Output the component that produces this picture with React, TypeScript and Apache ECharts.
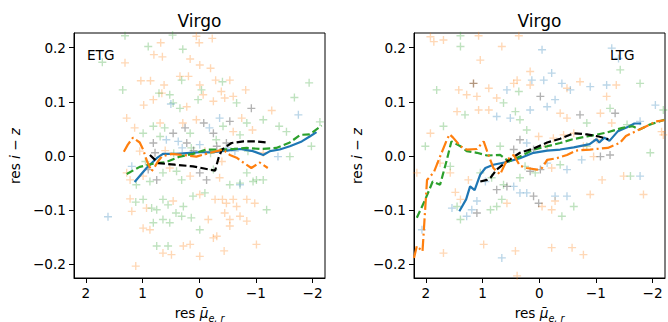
import React, { useEffect, useRef } from 'react';
import * as echarts from 'echarts';

// ---------- tick labels / texts ----------
const xTicks = [2, 1, 0, -1, -2];
const yTicks = [-0.2, -0.1, 0.0, 0.1, 0.2];
const panelTitles = ['Virgo', 'Virgo'];
const panelTags = ['ETG', 'LTG'];

// ---------- ETG panel (left) scatter ----------
const etgOrange = [
  [0.80,0.187],[0.68,0.209],[0.65,0.183],[0.05,0.221],[0.00,0.209],[-0.23,0.217],[0.16,0.179],[-0.01,0.168],
  [-0.20,0.162],[1.31,0.172],[1.03,0.139],[0.86,0.139],[0.66,0.116],[0.62,0.131],[0.98,0.094],[0.81,0.104],
  [0.34,0.147],[0.19,0.147],[-0.01,0.131],[-0.07,0.113],[-0.25,0.101],[-0.29,0.140],[-0.54,0.140],[-0.39,0.119],
  [-0.45,0.107],[-0.60,0.110],[-0.82,0.122],[0.22,0.091],[-1.28,0.084],[-0.75,0.070],[-0.94,0.048],[1.28,0.070],
  [1.14,0.052],[0.69,0.061],[0.29,0.061],[0.05,0.067],[-0.60,0.045],[-0.10,0.009],[-1.13,0.006],[1.05,0.009],
  [1.28,-0.031],[1.22,-0.044],[0.99,-0.037],[0.52,-0.022],[0.16,-0.037],[-0.36,-0.040],[1.22,-0.079],[1.19,-0.102],
  [0.93,-0.096],[0.46,-0.083],[-0.01,-0.071],[-0.28,-0.080],[-0.41,-0.080],[-0.48,-0.087],[-0.60,-0.080],[-0.66,-0.093],
  [-0.45,-0.105],[-0.54,-0.117],[-0.84,-0.080],[-0.98,-0.087],[0.99,-0.133],[0.87,-0.136],[-0.16,-0.117],[-0.31,-0.148],
  [-0.54,-0.129],[-0.72,-0.111],[-0.84,-0.120],[-1.01,-0.163],[0.64,-0.179],[0.49,-0.182],[0.28,-0.166],[0.16,-0.163],
  [-0.01,-0.185],[-0.25,-0.151],[-0.44,-0.175],[1.12,-0.203],[-0.40,-0.010],[0.60,0.010]
];
const etgGreen = [
  [1.31,0.222],[0.90,0.202],[0.47,0.223],[0.29,0.197],[1.71,0.173],[1.35,0.122],[0.71,0.116],[0.52,0.113],
  [0.31,0.140],[-0.04,0.122],[-0.41,0.137],[-0.66,0.098],[0.46,0.098],[0.34,0.088],[0.02,0.104],[-1.94,0.135],
  [-1.68,0.108],[-0.84,0.061],[-1.13,0.067],[-1.41,0.055],[-1.54,0.045],[-2.13,0.063],[-1.98,0.018],[0.99,0.042],
  [0.81,0.055],[0.61,0.052],[0.16,0.042],[-0.42,0.055],[-0.72,0.039],[0.69,0.036],[0.14,0.015],[-0.86,0.009],
  [-1.60,-0.001],[1.11,-0.053],[0.87,-0.047],[0.64,-0.031],[0.40,-0.028],[0.31,-0.044],[-0.25,-0.025],[-0.54,-0.053],
  [-0.72,-0.050],[-0.84,-0.031],[-0.95,-0.047],[-1.13,-0.044],[1.12,-0.085],[0.99,-0.080],[0.84,-0.096],[0.75,-0.099],
  [0.64,-0.080],[0.55,-0.090],[0.41,-0.105],[0.28,-0.093],[0.11,-0.074],[-0.10,-0.068],[-1.19,-0.099],[-1.01,-0.044],
  [0.81,-0.123],[0.64,-0.117],[0.52,-0.123],[0.31,-0.111],[0.14,-0.114],[-0.01,-0.136],[0.55,-0.166],[0.75,-0.166],
  [0.45,0.005],[-0.20,0.005],[0.95,-0.010],[-0.30,0.030]
];
const etgBlue = [
  [-1.75,0.076],[0.50,0.096],[-0.18,0.052],[-0.36,0.070],[0.58,0.030],[0.37,0.027],[-0.01,0.021],[-0.63,0.009],
  [-1.39,-0.001],[1.19,-0.019],[-0.72,-0.053],[1.61,-0.112],[0.30,0.015],[-0.50,0.015]
];
const etgGray = [
  [-0.92,0.088],[0.46,0.042],[0.25,0.052],[-0.08,0.061],[-0.25,0.042],[-0.54,0.064],[0.22,0.024],[-0.31,0.018],
  [-0.48,0.024],[0.81,0.024],[0.78,0.006],[0.75,-0.044],[-0.01,-0.031],[-0.13,-0.044],[0.10,0.010],[0.90,-0.025]
];

// ---------- ETG panel running curves ----------
const etgBlueLine = [
  [1.14,-0.048],[0.93,-0.022],[0.75,-0.004],[0.64,0.004],[0.40,0.004],[0.16,0.006],[-0.01,0.007],[-0.25,0.007],
  [-0.48,0.010],[-0.72,0.013],[-0.95,0.009],[-1.13,0.002],[-1.25,0.009],[-1.42,0.012],[-1.60,0.018],[-1.81,0.027],
  [-1.95,0.036],[-2.07,0.044]
];
const etgGreenLine = [
  [1.28,-0.033],[1.05,-0.020],[0.81,-0.014],[0.58,-0.011],[0.34,-0.001],[0.11,0.004],[-0.13,0.012],[-0.36,0.012],
  [-0.60,0.013],[-0.84,0.015],[-1.07,0.013],[-1.36,0.015],[-1.60,0.025],[-1.78,0.039],[-1.95,0.040],[-2.16,0.056]
];
const etgBlackLine = [
  [0.87,0.002],[0.72,-0.013],[0.43,-0.016],[0.11,-0.019],[-0.28,-0.027],[-0.34,-0.004],[-0.40,0.012],[-0.57,0.024],
  [-0.78,0.027],[-1.01,0.027],[-1.19,0.025]
];
const etgOrangeLine = [
  [1.33,0.008],[1.26,0.021],[1.17,0.034],[1.05,0.025],[0.99,0.012],[0.92,-0.010],[0.84,-0.028],[0.78,-0.019],
  [0.73,-0.010],[0.66,-0.001],[0.49,0.004],[0.31,0.002],[0.20,0.001],[0.05,-0.001],[-0.19,0.006],[-0.42,0.012],
  [-0.54,0.002],[-0.66,-0.003],[-0.75,-0.010],[-0.92,-0.022],[-1.07,-0.012],[-1.21,-0.022]
];

// ---------- LTG panel (right) scatter ----------
const ltgOrange = [
  [1.92,0.220],[1.86,0.211],[1.69,0.214],[1.07,0.222],[0.36,0.222],[0.66,0.202],[1.04,0.177],[0.16,0.156],
  [0.39,0.140],[1.42,0.122],[1.28,0.113],[1.10,0.110],[0.89,0.125],[0.75,0.107],[0.45,0.134],[0.16,0.131],
  [-0.49,0.125],[-0.72,0.137],[-1.19,0.110],[-1.36,0.131],[1.92,0.042],[1.45,0.082],[1.07,0.085],[0.89,0.085],
  [-0.37,0.079],[-0.49,0.070],[-1.08,0.079],[-1.28,0.061],[-2.16,0.045],[1.75,-0.013],[1.57,-0.031],[1.48,-0.067],
  [1.39,-0.080],[1.25,-0.044],[-0.22,-0.022],[-0.96,-0.001],[-1.49,-0.037],[-1.11,-0.044],[-0.90,-0.071],[-1.84,-0.071],
  [0.57,-0.087],[-0.05,-0.093],[-0.22,-0.099],[-0.28,-0.083],[1.69,-0.179],[0.98,-0.163],[0.42,-0.175],[-0.22,-0.169],
  [-0.58,-0.169],[-0.78,-0.182],[0.39,-0.221],[-0.14,0.018],[-0.25,0.033],[-0.43,0.039],[-0.61,0.042],[-1.02,0.030],
  [0.01,0.036],[-2.19,0.039],[-0.78,0.018],[2.16,-0.031],[1.16,0.134]
];
const ltgGreen = [
  [1.39,0.222],[1.39,0.202],[-1.43,0.159],[1.81,0.122],[0.36,0.119],[-1.78,0.134],[-2.19,0.085],[1.69,0.055],
  [1.31,0.076],[0.63,0.098],[0.42,0.082],[0.34,0.067],[-0.84,0.061],[-1.25,0.088],[-1.55,0.058],[-1.96,0.006],
  [1.57,-0.019],[1.04,-0.031],[0.84,-0.040],[0.63,-0.053],[0.34,-0.040],[0.25,-0.019],[0.07,-0.031],[-0.37,-0.016],
  [-1.61,-0.037],[1.45,-0.093],[1.39,-0.117],[0.86,-0.099],[0.75,-0.093],[0.66,-0.080],[-0.40,-0.111],[-0.61,-0.093],
  [2.01,0.018],[-0.84,0.018],[0.69,0.018],[0.22,0.048]
];
const ltgBlue = [
  [-0.05,0.196],[-0.22,0.153],[0.13,0.140],[-0.08,0.140],[-1.28,0.199],[-1.40,0.180],[0.57,0.122],[-0.40,0.134],
  [-0.55,0.122],[-0.90,0.128],[-1.19,0.131],[-2.05,0.094],[0.75,0.073],[0.51,0.070],[0.16,0.085],[-0.14,0.091],
  [-0.28,0.104],[0.95,-0.047],[0.45,-0.056],[-0.14,-0.013],[-0.49,-0.025],[-0.75,-0.007],[-1.78,-0.037],[1.54,-0.096],
  [1.28,-0.111],[1.19,-0.099],[1.10,-0.083],[0.34,-0.068],[0.22,-0.068],[-0.49,-0.074],[-0.28,-0.074],[2.07,-0.136],
  [0.66,-0.188],[0.22,0.024],[-1.78,0.064]
];
const ltgGray = [
  [1.16,0.134],[-0.02,0.110],[-0.72,0.076],[-1.34,0.079],[0.75,-0.062],[0.57,-0.056],[0.16,-0.028],[-0.02,-0.025],
  [-1.08,-0.001],[-1.25,0.002],[1.10,-0.105],[0.10,-0.074],[0.01,-0.087],[0.10,0.012],[0.34,0.030],[0.45,0.012]
];

// ---------- LTG panel running curves ----------
const ltgBlueLine = [
  [1.41,-0.102],[1.29,-0.080],[1.22,-0.056],[1.14,-0.063],[1.04,-0.034],[0.95,-0.022],[0.81,-0.016],[0.57,-0.011],
  [0.34,-0.004],[0.10,0.006],[-0.14,0.010],[-0.37,0.012],[-0.61,0.016],[-0.89,0.022],[-1.01,0.031],[-1.06,0.025],
  [-1.15,0.034],[-1.24,0.028],[-1.39,0.046],[-1.53,0.052],[-1.68,0.060],[-1.80,0.060]
];
const ltgGreenLine = [
  [2.16,-0.114],[2.01,-0.080],[1.88,-0.047],[1.75,-0.053],[1.63,-0.007],[1.55,0.027],[1.39,0.018],[1.28,0.009],
  [1.10,0.006],[0.92,0.001],[0.69,0.002],[0.54,-0.010],[0.34,-0.001],[0.10,0.012],[-0.14,0.018],[-0.37,0.024],
  [-0.59,0.031],[-0.84,0.036],[-1.18,0.043],[-1.47,0.052],[-1.65,0.055],[-1.77,0.049],[-1.95,0.058],[-2.21,0.067]
];
const ltgBlackLine = [
  [1.04,-0.047],[0.92,-0.044],[0.86,-0.040],[0.75,-0.025],[0.57,-0.010],[0.34,0.006],[0.10,0.014],[-0.14,0.025],
  [-0.37,0.032],[-0.61,0.042],[-0.84,0.040],[-1.05,0.036],[-1.22,0.031]
];
const ltgOrangeLine = [
  [2.21,-0.188],[2.16,-0.166],[2.06,-0.176],[1.98,-0.044],[1.86,-0.030],[1.75,-0.001],[1.63,0.030],[1.58,0.040],
  [1.52,0.034],[1.39,0.018],[1.28,0.012],[1.10,0.013],[0.98,0.027],[0.92,0.009],[0.81,-0.022],[0.69,-0.034],
  [0.57,-0.007],[0.45,0.002],[0.34,-0.018],[0.22,-0.022],[0.04,-0.025],[-0.05,-0.022],[-0.14,-0.007],[-0.31,-0.004],
  [-0.49,0.002],[-0.65,0.010],[-0.90,0.012],[-1.21,0.015],[-1.42,0.024],[-1.53,0.037],[-1.77,0.049],[-1.95,0.058],
  [-2.06,0.064],[-2.21,0.066]
];

const FONT = '"DejaVu Sans", sans-serif';
const COL = { blue: '#1f77b4', orange: '#ff7f0e', green: '#2ca02c', black: '#000000' };
const PLUS = 'path://M-1,-0.17L1,-0.17L1,0.17L-1,0.17Z M-0.17,-1L0.17,-1L0.17,1L-0.17,1Z';
const DASH = [7.5, 3.3];
const DASHDOT = [12, 3.3, 2, 3.3];

const minus = (s: string) => s.replace('-', '\u2212');

function scatter(data: number[][], color: string, idx: number, opacity = 0.3) {
  return {
    type: 'scatter', xAxisIndex: idx, yAxisIndex: idx, data, symbol: PLUS, symbolSize: 8,
    itemStyle: { color, opacity }, silent: true, z: 2,
  };
}
function curve(data: number[][], color: string, idx: number, type: any) {
  return {
    type: 'line', xAxisIndex: idx, yAxisIndex: idx, data, symbol: 'none', showSymbol: false,
    lineStyle: { color, width: 2.2, type, cap: 'butt' }, silent: true, z: 3,
  };
}

const gridLefts = [74, 414];

export default function App() {
  const ref = useRef<HTMLDivElement>(null);
  useEffect(() => {
    if (!ref.current) return;
    const chart = echarts.init(ref.current, undefined, { renderer: 'svg' });
    const grids = gridLefts.map((l) => ({
      left: l, top: 33, width: 251, height: 245, show: true,
      borderColor: '#000', borderWidth: 1, backgroundColor: 'transparent',
    }));
    const xAxes = [0, 1].map((i) => ({
      gridIndex: i, type: 'value', min: -2.22, max: 2.21, inverse: true,
      axisLine: { show: true, onZero: false, lineStyle: { color: '#000', width: 1 } },
      splitLine: { show: false },
      axisTick: { show: true, customValues: xTicks, length: 5, lineStyle: { color: '#000', width: 1 } },
      axisLabel: {
        customValues: xTicks, margin: 8, color: '#000', fontFamily: FONT, fontSize: 13.6,
        formatter: (v: number) => minus(String(v)),
      },
    }));
    const yAxes = [0, 1].map((i) => ({
      gridIndex: i, type: 'value', min: -0.225, max: 0.227,
      axisLine: { show: true, onZero: false, lineStyle: { color: '#000', width: 1 } },
      splitLine: { show: false },
      axisTick: { show: true, customValues: yTicks, length: 5, lineStyle: { color: '#000', width: 1 } },
      axisLabel: {
        customValues: yTicks, margin: 8, color: '#000', fontFamily: FONT, fontSize: 13.6,
        formatter: (v: number) => minus(v.toFixed(1)),
      },
    }));

    const series: any[] = [];
    const panels = [
      { o: etgOrange, g: etgGreen, b: etgBlue, k: etgGray, bl: etgBlueLine, gl: etgGreenLine, kl: etgBlackLine, ol: etgOrangeLine },
      { o: ltgOrange, g: ltgGreen, b: ltgBlue, k: ltgGray, bl: ltgBlueLine, gl: ltgGreenLine, kl: ltgBlackLine, ol: ltgOrangeLine },
    ];
    panels.forEach((p, i) => {
      series.push(scatter(p.o, COL.orange, i));
      series.push(scatter(p.g, COL.green, i));
      series.push(scatter(p.b, COL.blue, i));
      series.push(scatter(p.k, COL.black, i, 0.3));
      series.push(curve(p.bl, COL.blue, i, 'solid'));
      series.push(curve(p.gl, COL.green, i, DASH));
      series.push(curve(p.kl, COL.black, i, DASH));
      series.push(curve(p.ol, COL.orange, i, DASHDOT));
    });

    const graphic: any[] = [];
    gridLefts.forEach((l, i) => {
      const cx = l + 125.5;
      graphic.push({
        type: 'text', x: cx, y: 21, silent: true,
        style: { text: panelTitles[i], fontFamily: FONT, fontSize: 17, fill: '#000', textAlign: 'center', textVerticalAlign: 'middle' },
      });
      graphic.push({
        type: 'text', x: i === 0 ? 87 : 610, y: 55, silent: true, z: 10,
        style: { text: panelTags[i], fontFamily: FONT, fontSize: 13.6, fill: '#000', textAlign: 'left', textVerticalAlign: 'middle' },
      });
      graphic.push({
        type: 'text', x: i === 0 ? 14.5 : 356.5, y: 156, rotation: Math.PI / 2, silent: true,
        style: {
          text: '{n|res }{i|i}{n| \u2212 }{i|z}',
          textAlign: 'center', textVerticalAlign: 'middle', fill: '#000',
          rich: {
            n: { fontFamily: FONT, fontSize: 13.6, fill: '#000' },
            i: { fontFamily: FONT, fontSize: 13.6, fontStyle: 'italic', fill: '#000' },
          },
        },
      });
      graphic.push({
        type: 'text', x: cx, y: 313, silent: true,
        style: {
          text: '{n|res }{m|\u03bc\u0304}{s|e, r}',
          textAlign: 'center', textVerticalAlign: 'middle', fill: '#000',
          rich: {
            n: { fontFamily: FONT, fontSize: 13.6, fill: '#000', lineHeight: 20, verticalAlign: 'middle' },
            m: { fontFamily: FONT, fontSize: 13.6, fontStyle: 'italic', fill: '#000', lineHeight: 20, verticalAlign: 'middle' },
            s: { fontFamily: FONT, fontSize: 9.6, fontStyle: 'italic', fill: '#000', lineHeight: 12, verticalAlign: 'bottom' },
          },
        },
      });
    });

    chart.setOption({
      animation: false,
      backgroundColor: '#ffffff',
      grid: grids,
      xAxis: xAxes,
      yAxis: yAxes,
      series,
      graphic,
    });
    return () => chart.dispose();
  }, []);
  return <div ref={ref} style={{ position: 'fixed', left: 0, top: 0, width: 668, height: 322 }} />;
}
